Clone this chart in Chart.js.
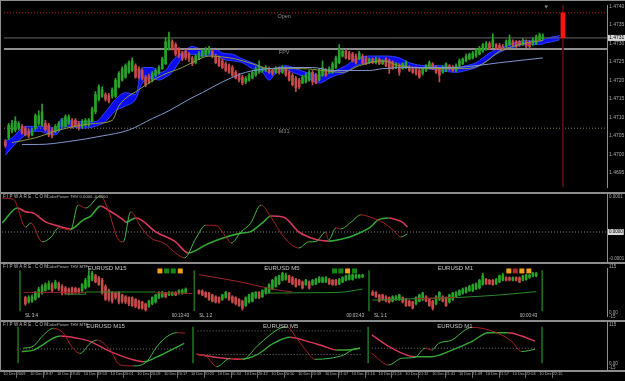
<!DOCTYPE html>
<html>
<head>
<meta charset="utf-8">
<title>EURUSD M1</title>
<script src="https://cdn.jsdelivr.net/npm/chart.js@4.4.1/dist/chart.umd.min.js"></script>
<style>
  html, body { margin: 0; padding: 0; background: #000; }
  #frame { position: relative; width: 625px; height: 381px; background: #000; overflow: hidden; }
  #frame canvas { position: absolute; left: 0; }
  .rule { position: absolute; left: 0; width: 625px; background: #8c8c8c; }
</style>
</head>
<body>
<div id="frame">
  <canvas id="pricePane" width="625" height="192" style="top:0;width:625px;height:192px"></canvas>
  <canvas id="thvPane" width="625" height="68" style="top:194px;width:625px;height:68px"></canvas>
  <canvas id="miniPane" width="625" height="56" style="top:264px;width:625px;height:56px"></canvas>
  <canvas id="oscPane" width="625" height="59" style="top:322px;width:625px;height:59px"></canvas>
  <div class="rule" style="top:0;height:1px"></div>
  <div class="rule" style="top:192px;height:2px"></div>
  <div class="rule" style="top:262px;height:2px"></div>
  <div class="rule" style="top:320px;height:2px"></div>
  <div class="rule" style="top:370px;height:2px"></div>
  <div class="rule" style="top:0;width:1px;height:372px"></div>
</div>
<script>
// ---------- price pane (EURUSD M1) ----------
const opens = [
  1.47035,1.47045,1.47063,1.47066,1.47071,1.47076,1.47071,1.47063,1.47053,1.47071,
  1.47084,1.47079,1.47084,1.47079,1.47066,1.47063,1.47066,1.47076,1.47076,1.47084,
  1.47089,1.47092,1.47084,1.47076,1.47079,1.47081,1.47089,1.47115,1.47149,1.47157,
  1.47162,1.47159,1.47157,1.47157,1.47183,1.47201,1.47209,1.47222,1.47227,1.47240,
  1.47232,1.47227,1.47209,1.47211,1.47201,1.47214,1.47219,1.47232,1.47245,1.47287,
  1.47305,1.47297,1.47284,1.47274,1.47279,1.47271,1.47261,1.47248,1.47258,1.47266,
  1.47269,1.47274,1.47279,1.47266,1.47261,1.47253,1.47245,1.47240,1.47235,1.47222,
  1.47214,1.47209,1.47196,1.47201,1.47206,1.47214,1.47222,1.47227,1.47227,1.47232,
  1.47227,1.47222,1.47232,1.47222,1.47232,1.47222,1.47214,1.47206,1.47201,1.47193,
  1.47196,1.47201,1.47222,1.47214,1.47201,1.47214,1.47227,1.47222,1.47222,1.47235,
  1.47248,1.47266,1.47279,1.47274,1.47271,1.47266,1.47258,1.47266,1.47261,1.47248,
  1.47258,1.47248,1.47258,1.47245,1.47258,1.47253,1.47248,1.47235,1.47240,1.47232,
  1.47235,1.47235,1.47232,1.47232,1.47227,1.47219,1.47227,1.47235,1.47245,1.47235,
  1.47232,1.47222,1.47227,1.47240,1.47235,1.47227,1.47240,1.47245,1.47253,1.47258,
  1.47261,1.47266,1.47271,1.47279,1.47284,1.47300,1.47292,1.47297,1.47295,1.47292,
  1.47292,1.47297,1.47305,1.47305,1.47305,1.47297,1.47305,1.47302,1.47297,1.47300,
  1.47310,1.47313
];
const highs = [
  1.47040,1.47084,1.47092,1.47102,1.47089,1.47081,1.47076,1.47068,1.47071,1.47110,
  1.47118,1.47136,1.47092,1.47084,1.47071,1.47081,1.47089,1.47097,1.47107,1.47107,
  1.47097,1.47097,1.47089,1.47094,1.47097,1.47097,1.47128,1.47170,1.47188,1.47183,
  1.47167,1.47165,1.47180,1.47206,1.47224,1.47237,1.47245,1.47253,1.47261,1.47245,
  1.47237,1.47232,1.47214,1.47217,1.47224,1.47232,1.47240,1.47263,1.47315,1.47331,
  1.47310,1.47302,1.47289,1.47279,1.47284,1.47276,1.47266,1.47271,1.47279,1.47284,
  1.47289,1.47292,1.47284,1.47271,1.47266,1.47258,1.47250,1.47245,1.47240,1.47227,
  1.47219,1.47214,1.47211,1.47219,1.47227,1.47237,1.47253,1.47237,1.47240,1.47237,
  1.47232,1.47237,1.47237,1.47240,1.47237,1.47227,1.47219,1.47211,1.47206,1.47214,
  1.47219,1.47227,1.47227,1.47219,1.47232,1.47253,1.47232,1.47237,1.47250,1.47266,
  1.47297,1.47284,1.47284,1.47279,1.47276,1.47271,1.47279,1.47271,1.47266,1.47261,
  1.47261,1.47263,1.47261,1.47256,1.47261,1.47258,1.47253,1.47248,1.47245,1.47248,
  1.47253,1.47240,1.47237,1.47237,1.47232,1.47235,1.47243,1.47253,1.47248,1.47240,
  1.47235,1.47240,1.47248,1.47243,1.47240,1.47245,1.47258,1.47261,1.47271,1.47274,
  1.47279,1.47287,1.47292,1.47300,1.47305,1.47305,1.47326,1.47300,1.47300,1.47297,
  1.47310,1.47323,1.47310,1.47308,1.47308,1.47313,1.47310,1.47308,1.47315,1.47323,
  1.47328,1.47326
];
const lows = [
  1.47019,1.47040,1.47058,1.47061,1.47066,1.47055,1.47050,1.47045,1.47050,1.47066,
  1.47079,1.47076,1.47063,1.47048,1.47045,1.47058,1.47063,1.47074,1.47074,1.47081,
  1.47071,1.47074,1.47066,1.47071,1.47076,1.47076,1.47087,1.47110,1.47144,1.47154,
  1.47144,1.47139,1.47152,1.47154,1.47180,1.47198,1.47206,1.47219,1.47224,1.47206,
  1.47204,1.47201,1.47183,1.47191,1.47196,1.47209,1.47217,1.47230,1.47243,1.47282,
  1.47282,1.47266,1.47261,1.47253,1.47256,1.47250,1.47240,1.47245,1.47256,1.47263,
  1.47266,1.47271,1.47261,1.47245,1.47237,1.47232,1.47224,1.47219,1.47211,1.47204,
  1.47196,1.47188,1.47191,1.47198,1.47204,1.47211,1.47219,1.47222,1.47224,1.47219,
  1.47214,1.47219,1.47217,1.47219,1.47211,1.47198,1.47185,1.47170,1.47178,1.47191,
  1.47193,1.47198,1.47188,1.47191,1.47198,1.47211,1.47211,1.47219,1.47219,1.47232,
  1.47245,1.47263,1.47258,1.47256,1.47250,1.47245,1.47256,1.47245,1.47243,1.47245,
  1.47245,1.47245,1.47243,1.47243,1.47237,1.47219,1.47230,1.47232,1.47214,1.47230,
  1.47232,1.47224,1.47219,1.47214,1.47206,1.47214,1.47224,1.47232,1.47230,1.47219,
  1.47196,1.47219,1.47224,1.47227,1.47224,1.47224,1.47237,1.47243,1.47250,1.47256,
  1.47258,1.47263,1.47269,1.47276,1.47282,1.47284,1.47289,1.47284,1.47282,1.47282,
  1.47289,1.47295,1.47292,1.47289,1.47292,1.47295,1.47289,1.47287,1.47295,1.47297,
  1.47308,1.47310
];
const closes = [
  1.47024,1.47079,1.47084,1.47089,1.47084,1.47058,1.47053,1.47050,1.47066,1.47105,
  1.47105,1.47115,1.47066,1.47053,1.47050,1.47076,1.47084,1.47092,1.47102,1.47102,
  1.47076,1.47076,1.47071,1.47089,1.47092,1.47094,1.47123,1.47162,1.47183,1.47175,
  1.47149,1.47144,1.47175,1.47201,1.47219,1.47232,1.47240,1.47248,1.47253,1.47209,
  1.47209,1.47206,1.47188,1.47196,1.47219,1.47227,1.47235,1.47258,1.47305,1.47310,
  1.47287,1.47271,1.47266,1.47258,1.47261,1.47258,1.47245,1.47266,1.47274,1.47279,
  1.47282,1.47284,1.47266,1.47248,1.47240,1.47235,1.47227,1.47222,1.47214,1.47206,
  1.47201,1.47193,1.47206,1.47214,1.47222,1.47232,1.47240,1.47232,1.47235,1.47222,
  1.47219,1.47232,1.47222,1.47235,1.47214,1.47201,1.47188,1.47180,1.47183,1.47209,
  1.47214,1.47222,1.47196,1.47193,1.47227,1.47235,1.47214,1.47232,1.47245,1.47261,
  1.47284,1.47279,1.47261,1.47258,1.47253,1.47248,1.47274,1.47248,1.47245,1.47258,
  1.47248,1.47258,1.47245,1.47253,1.47240,1.47232,1.47232,1.47245,1.47222,1.47245,
  1.47248,1.47227,1.47222,1.47219,1.47209,1.47232,1.47240,1.47248,1.47232,1.47222,
  1.47214,1.47235,1.47245,1.47232,1.47227,1.47240,1.47253,1.47258,1.47266,1.47271,
  1.47274,1.47284,1.47287,1.47297,1.47300,1.47287,1.47310,1.47287,1.47287,1.47284,
  1.47305,1.47310,1.47297,1.47292,1.47297,1.47308,1.47292,1.47292,1.47310,1.47318,
  1.47323,1.47318
];
const priceTicks = [1.4695, 1.4700, 1.4705, 1.4710, 1.4715, 1.4720, 1.4725, 1.4730, 1.4735, 1.4740];
const currentPrice = 1.47315;
const levelNames = ['Open', 'FPV', 'M31'];
const levelPrices = [1.47383, 1.47285, 1.47071];
const rangeBar = [1.47315, 1.47383];
const futureBarIdx = 167;
const shiftMarkIdx = 162;

// blue band
const cloudIdx = [0,2,5,7,10,12,15,17,19,23,27,30,33,36,39,41,44,46,48,50,53,56,59,63,65,68,71,74,77,79,
  81,84,87,90,94,97,99,102,105,109,114,118,121,126,130,135,138,141,143,145,147,150,152,154,156,160,162,164,166];
const cloudTop = [1.47037,1.47045,1.47071,1.47076,1.47076,1.47076,1.47071,1.47097,1.47092,1.47089,1.47089,1.47115,
  1.47149,1.47167,1.47162,1.47235,1.47235,1.47222,1.47227,1.47253,1.47274,1.47292,1.47284,1.47287,1.47274,1.47271,
  1.47258,1.47248,1.47235,1.47222,1.47232,1.47240,1.47232,1.47222,1.47214,1.47219,1.47227,1.47240,1.47258,1.47266,
  1.47266,1.47261,1.47248,1.47240,1.47240,1.47235,1.47240,1.47248,1.47261,1.47274,1.47284,1.47292,1.47300,1.47305,
  1.47308,1.47305,1.47313,1.47318,1.47321];
const cloudBottom = [1.46998,1.47019,1.47045,1.47058,1.47063,1.47058,1.47053,1.47071,1.47076,1.47071,1.47076,1.47089,
  1.47118,1.47131,1.47149,1.47193,1.47206,1.47201,1.47209,1.47222,1.47261,1.47271,1.47266,1.47271,1.47258,1.47253,
  1.47248,1.47232,1.47222,1.47201,1.47219,1.47227,1.47219,1.47209,1.47193,1.47206,1.47214,1.47222,1.47240,1.47248,
  1.47253,1.47245,1.47235,1.47232,1.47227,1.47222,1.47227,1.47235,1.47245,1.47258,1.47271,1.47284,1.47289,1.47295,
  1.47297,1.47297,1.47302,1.47305,1.47310];

// moving averages
const slowMaIdx = [5,10,19,29,37,44,49,55,59,65,72,79,86,92,98,109,113,121,133,138,148,156,161];
const slowMa = [1.47027,1.47027,1.47035,1.47050,1.47066,1.47097,1.47118,1.47149,1.47167,1.47196,1.47222,1.47232,
  1.47235,1.47235,1.47227,1.47227,1.47232,1.47235,1.47235,1.47237,1.47248,1.47256,1.47261];
const fastMaIdx = [2,9,16,27,32,34,40,47,53,57,61,69,74,79,89,95,101,106,113,118,131,138,143,148,152,158,161];
const fastMa = [1.47032,1.47045,1.47066,1.47084,1.47092,1.47131,1.47175,1.47214,1.47235,1.47253,1.47266,1.47258,
  1.47245,1.47232,1.47232,1.47227,1.47222,1.47240,1.47253,1.47240,1.47232,1.47232,1.47245,1.47279,1.47292,1.47305,1.47308];

// ---------- ColorPower THV pane ----------
const thvSlowIdx = [-0.3,4.2,6.7,8.9,12.7,15.6,20.1,23.9,26.1,29.0,31.3,35.8,36.6,39.6,45.6,51.4,55.2,60.4,64.9,70.9,
  73.8,77.6,79.9,83.7,88.2,91.1,94.0,97.1,102.3,106.1,109.6,111.9,115.0,117.3,119.1,120.6];
const thvSlow = [0.000024,0.000063,0.000053,0.000050,0.000026,0.000018,0.000008,0.000032,0.000042,0.000068,0.000058,
  0.000032,0.000026,0.000037,0.000000,-0.000026,-0.000055,-0.000034,-0.000018,-0.000003,0.000001,0.000026,0.000042,
  0.000039,0.000000,-0.000013,-0.000021,-0.000024,-0.000016,-0.000003,0.000013,0.000032,0.000037,0.000032,0.000026,0.000013];
const thvFastIdx = [-0.3,3.0,6.7,8.2,11.6,14.3,16.5,20.1,22.3,24.6,29.0,31.3,34.4,35.8,38.0,41.1,44.0,47.9,51.4,54.1,
  57.5,60.4,63.5,67.1,68.0,70.9,73.8,76.9,79.9,83.7,88.2,91.1,93.3,96.2,97.1,99.3,100.7,103.8,106.7,109.6,113.5,116.4,118.7,120.6];
const thvFast = [0.000089,0.000086,0.000013,0.000024,-0.000026,-0.000013,0.000011,0.000005,0.000071,0.000063,0.000095,
  0.000058,-0.000021,-0.000026,0.000053,0.000013,-0.000016,-0.000029,-0.000055,-0.000068,-0.000016,0.000018,0.000017,
  -0.000021,-0.000029,0.000000,0.000023,0.000071,0.000039,-0.000013,-0.000042,-0.000026,-0.000025,0.000000,-0.000021,
  0.000011,0.000008,0.000026,0.000045,0.000039,0.000024,0.000005,-0.000013,-0.000005];

// ---------- multi-timeframe mini charts, [open, high, low, close] ----------
const m15Start = 6;
const m15Bars = [
  [35,38,14,18],[23,40,20,35],[25,42,22,37],[30,52,28,47],[37,63,35,58],[47,70,44,65],[54,75,52,70],[58,80,56,73],[70,75,50,54],[61,82,58,77],
  [73,77,54,58],[65,70,42,47],[61,65,44,47],[58,61,42,47],[61,63,44,47],[60,63,46,49],[58,61,46,49],[54,73,51,70],[61,87,58,82],[65,108,63,94],
  [82,106,80,101],[94,98,75,77],[89,92,68,70],[82,87,44,47],[65,70,27,30],[54,58,25,30],[49,51,20,25],[47,49,30,35],[49,51,18,23],[42,44,20,25],
  [37,40,18,23],[35,37,13,18],[35,37,11,13],[30,32,8,11],[25,28,4,6],[23,25,3,6],[18,20,-2,2],[11,28,8,25],[18,37,15,35],[23,44,20,42],
  [35,51,32,49],[37,52,35,49],[47,49,35,37],[42,52,40,49],[42,51,40,49],[49,51,40,42],[47,56,44,54],[47,58,44,54],[49,61,47,58]
];
const m5Start = 58;
const m5Bars = [
  [54,56,44,46],[53,56,40,42],[49,51,35,37],[47,49,27,30],[42,44,23,25],[37,40,20,23],[35,37,20,23],[30,44,27,42],[35,52,33,49],[47,49,27,30],
  [37,40,20,23],[35,37,15,18],[30,32,11,13],[25,28,1,6],[13,37,11,35],[23,44,20,42],[25,49,23,47],[35,51,32,49],[49,51,32,35],[37,56,35,54],
  [47,63,44,61],[49,73,47,70],[58,84,56,82],[65,92,63,89],[72,96,70,94],[82,104,80,101],[84,101,82,96],[94,96,75,77],[89,92,70,72],[84,87,63,65],
  [82,84,68,70],[77,80,58,61],[70,84,68,82],[77,80,58,61],[70,84,68,82],[72,87,70,84],[77,92,75,89],[77,91,75,89],[77,92,75,89],[84,87,70,72],
  [82,84,68,70],[82,84,68,70],[72,87,70,84],[77,92,75,89],[82,96,80,94],[84,99,82,96],[84,99,82,96],[89,99,87,96],[89,98,87,96],[91,98,89,96]
];
const m1Start = 110;
const m1Bars = [
  [49,54,40,42],[49,51,35,37],[42,44,23,25],[42,44,27,30],[37,40,23,25],[35,37,20,23],[25,40,23,37],[30,40,27,37],[30,44,27,42],[35,37,20,23],
  [30,32,11,13],[25,28,11,13],[23,25,4,6],[18,37,15,35],[25,44,23,42],[30,49,27,47],[37,40,23,25],[30,32,11,13],[25,28,1,6],[18,40,15,37],
  [30,51,27,49],[37,40,23,25],[35,37,11,13],[23,44,20,42],[30,49,27,47],[37,51,35,49],[42,56,40,54],[47,61,44,58],[49,63,47,61],[54,68,51,65],
  [54,72,51,70],[58,75,56,72],[61,84,58,82],[70,101,68,94],[84,87,70,72],[82,84,70,72],[82,84,68,70],[72,87,70,84],[77,96,75,94],[82,101,80,96],
  [89,91,80,82],[89,91,80,82],[82,91,80,89],[89,91,80,82],[89,91,75,77],[82,96,80,94],[84,98,82,96],[89,98,87,96],[94,103,91,101],[94,103,91,101]
];
const m15StopRed = [[5.5,49],[24,49],[null,null],[45,48],[56,46]];
const m15StopGreen = [[18,44],[24,44],[24,50],[45,50]];
const m5MaRed = [[58,97],[70,78],[80,58],[86,50]];
const m5MaGreen = [[78,47],[90,48],[100,49],[107,58]];
const m1MaGreen = [[110,28],[123,32],[135,35],[148,42],[159,51]];
const m1MaRed = [[123,32],[135,35]];
const signalIdx = [46.3,48.3,50.3,52.4, 98.6,100.5,102.5,104.6, 150.8,152.7,154.7,156.8];
const signalState = ['warn','up','up','warn', 'up','up','warn','up', 'warn','down','warn','warn'];
const signalLevel = 107;
const miniSplitIdx = [4.4, 56.6, 108.9, 160.8];
const miniTitles = ['EURUSD M15', 'EURUSD M5', 'EURUSD M1'];
const miniTitleIdx = [30.5, 82.8, 134.8];
const miniStops = ['SL 3:4', 'SL 1:2', 'SL 1:1'];
const miniTimers = ['00:13:43', '00:03:43', '00:00:43'];

// mini oscillators
const m15SlowIdx = [5.5,9,17,22,26,31,39,42,46,50,54];
const m15Slow = [35,39,77,71,62,39,12,7.5,21,39,57];
const m15FastIdx = [6,9,12,15,18,20.4,22.9,25.9,27.9,31.9,34.8,38.8,42.8,45.8,48.8,51.8,54.2];
const m15Fast = [44,50,80,98,84,48,30,57,66,39,-1.5,-4,7.5,48,75,86,85];
const m5SlowIdx = [57.7,64.7,70.7,75.6,80.6,85.6,89.5,95.5,99.5,102.5,106.5];
const m5Slow = [27.5,18,14,26,57,73.5,66,50,39,39,44];
const m5FastIdx = [57.7,60.7,63.7,67.7,71.6,75.6,79.6,82.6,84.6,87.6,90.6,93,97.5,101.5,104.5,106.5];
const m5Fast = [27.5,21,-6,16.7,14,48,80,98,102,71,35,14,16.7,25.6,41,44];
const m1SlowIdx = [110,116,122.9,127.9,133.9,139.8,144.8,150.7,154.7,158.7];
const m1Slow = [80,44,21,21,39,62,86,86,77,63.5];
const m1FastIdx = [110,115,118.9,122.9,125.9,127.9,129.9,133.9,137.8,139.8,142.8,147.8,151.8,154.7,158.7];
const m1Fast = [30,-1.5,16.7,19.4,44,39,57,66,93,100.6,98,84,62,35,41];
const oscLevels = [[5,54,42],[58,107,91],[58,107,27],[110,159,44]];

// time axis
const timeLabels = ['10 Dec 2009','10 Dec 19:37','10 Dec 19:45','10 Dec 19:53','10 Dec 20:01','10 Dec 20:09',
  '10 Dec 20:17','10 Dec 20:25','10 Dec 20:34','10 Dec 20:42','10 Dec 20:50','10 Dec 20:59','10 Dec 21:07',
  '10 Dec 21:16','10 Dec 21:24','10 Dec 21:32','10 Dec 21:41','10 Dec 21:49','10 Dec 21:57','10 Dec 22:04','10 Dec 22:15'];
const timeTickIdx = [0,8,16,24,32,40,48,56,64,72,80,88,96,104,112,120,128,136,144,152,160];

// ---------- drawing ----------
const FONT = '"Liberation Sans", Arial, sans-serif';
const UP = '#27a327', DOWN = '#c74b4b';
const X_MIN = -0.4, X_MAX = 180.2;
const PRICE_MIN = 1.46912, PRICE_MAX = 1.47404;
const signalColors = {up: '#0f8a0f', warn: '#f0a010', down: '#a82c2c'};

const xy = (idx, vals) => idx.map((x, k) => ({x, y: vals[k]}));
const pairs = list => list.map(p => ({x: p[0], y: p[1]}));
const flat = (a, b, v) => [{x: a, y: v}, {x: b, y: v}];
const slope = (up, down) => ({borderColor: c => c.p1.parsed.y >= c.p0.parsed.y ? up : down});

function lineSet(data, color, width, extra) {
  return Object.assign({type: 'line', data, borderColor: color, borderWidth: width,
    pointRadius: 0, cubicInterpolationMode: 'monotone', fill: false}, extra || {});
}
function candleSets(list, bodyW) {
  const colors = list.map(b => b.c >= b.o ? UP : DOWN);
  return [
    {type: 'bar', data: list.map(b => ({x: b.x, y: [b.o, b.c]})), backgroundColor: colors,
      barThickness: bodyW, grouped: false, minBarLength: 1},
    {type: 'bar', data: list.map(b => ({x: b.x, y: [b.l, b.h]})), backgroundColor: colors,
      barThickness: 1, grouped: false}
  ];
}
function miniList(start, bars) {
  return bars.map((b, k) => ({x: start + k, o: b[0], h: b[1], l: b[2], c: b[3]}));
}

function textLayer(items) {
  return {
    id: 'textLayer',
    afterDraw(chart) {
      const {ctx, scales} = chart;
      ctx.save();
      for (const it of items) {
        const px = it.px !== undefined ? it.px : scales.x.getPixelForValue(it.x);
        const py = (it.py !== undefined ? it.py : scales.y.getPixelForValue(it.y)) + (it.dy || 0);
        ctx.font = (it.size || 5) + 'px ' + FONT;
        ctx.letterSpacing = (it.spacing || 0) + 'px';
        ctx.textAlign = it.align || 'left';
        ctx.textBaseline = 'middle';
        if (it.box) {
          const w = ctx.measureText(it.t).width;
          ctx.fillStyle = it.box;
          ctx.fillRect(px - 1, py - 3, w + 2, 6);
        }
        ctx.fillStyle = it.color || '#a8a8a8';
        ctx.fillText(it.t, px, py);
      }
      ctx.restore();
    }
  };
}

function baseOptions(pad, yScale, xScale) {
  return {
    responsive: false, maintainAspectRatio: false, animation: false, events: [],
    layout: {padding: Object.assign({left: 2, right: 0, top: 0, bottom: 0}, pad)},
    plugins: {legend: {display: false}, tooltip: {enabled: false}},
    scales: {
      x: xScale || {type: 'linear', min: X_MIN, max: X_MAX, offset: false, display: false},
      y: Object.assign({position: 'right', afterFit: s => { s.width = 18; },
        grid: {display: false, drawTicks: false}, border: {display: true, color: '#8c8c8c', width: 1},
        ticks: {display: false}}, yScale)
    }
  };
}

// price pane
const mainCandles = closes.map((c, i) => ({x: i, o: opens[i], h: highs[i], l: lows[i], c}));
const levelStyles = [
  {color: '#b42020', width: 1, dash: [1, 2]},
  {color: '#8e8e8e', width: 2, dash: []},
  {color: '#8a7a5a', width: 1, dash: [1, 2]}
];
new Chart(document.getElementById('pricePane'), {
  type: 'bar',
  data: {datasets: [
    lineSet([{x: shiftMarkIdx, y: 1.47400}], '#909090', 0, {showLine: false, pointRadius: 2,
      pointStyle: 'triangle', rotation: 180, pointBackgroundColor: '#909090'}),
    lineSet(xy(slowMaIdx, slowMa), '#8096cc', 1),
    lineSet(xy(fastMaIdx, fastMa), '#8c9a3c', 1),
    ...candleSets(mainCandles, 2),
    {type: 'bar', data: [{x: futureBarIdx, y: rangeBar}], backgroundColor: '#ff1212', barThickness: 4, grouped: false},
    {type: 'bar', data: [{x: futureBarIdx, y: [PRICE_MIN, PRICE_MAX]}], backgroundColor: '#5c0e0e', barThickness: 1, grouped: false},
    lineSet(flat(X_MIN, X_MAX, currentPrice), '#686868', 1),
    ...levelPrices.map((p, k) => lineSet(flat(X_MIN, X_MAX, p), levelStyles[k].color, levelStyles[k].width,
      {borderDash: levelStyles[k].dash})),
    lineSet(xy(cloudIdx, cloudBottom), '#2b45ff', 1),
    lineSet(xy(cloudIdx, cloudTop), '#2b45ff', 1, {fill: '-1', backgroundColor: '#0c0cee'})
  ]},
  options: baseOptions({top: 2, bottom: 1}, {
    min: PRICE_MIN, max: PRICE_MAX,
    afterBuildTicks: s => { s.ticks = priceTicks.map(v => ({value: v})); },
    ticks: {display: true, color: '#a8a8a8', padding: 2, font: {size: 5, family: FONT},
      callback: v => v.toFixed(4)}
  }),
  plugins: [textLayer([
    ...levelNames.map((t, k) => ({t, x: 83.5, y: levelPrices[k], dy: 3.5, align: 'center', color: '#8c8c8c', size: 5.5})),
    {t: currentPrice.toFixed(4), px: 609, y: currentPrice, box: '#d8d8d8', color: '#000', size: 5}
  ])]
});

// ColorPower THV pane
new Chart(document.getElementById('thvPane'), {
  type: 'line',
  data: {datasets: [
    lineSet(xy(thvFastIdx, thvFast), '#a82222', 1, {segment: slope('#44b844', '#a82222')}),
    lineSet(xy(thvSlowIdx, thvSlow), '#d8385a', 1.6, {segment: slope('#34a834', '#d8385a')}),
    lineSet(flat(X_MIN, X_MAX, 0), '#7a7a7a', 1, {borderDash: [1, 2]})
  ]},
  options: baseOptions({}, {min: -0.0000789, max: 0.0001}),
  plugins: [textLayer([
    {t: 'FIPWARE.COM', px: 3, py: 2.5, size: 4.5, spacing: 1.3, color: '#b8b8b8'},
    {t: 'ColorPower THV 0.0000 -0.0000', px: 47, py: 2.5, size: 4.2, color: '#b8b8b8'},
    {t: '0.0001', px: 609, py: 2.5, size: 4.5},
    {t: '0.0000', px: 609, y: 0, box: '#d8d8d8', color: '#000', size: 4.5},
    {t: '-0.0001', px: 609, py: 65, size: 4.5}
  ])]
});

// mini charts pane
const miniCandles = [...miniList(m15Start, m15Bars), ...miniList(m5Start, m5Bars), ...miniList(m1Start, m1Bars)];
new Chart(document.getElementById('miniPane'), {
  type: 'bar',
  data: {datasets: [
    lineSet(xy(signalIdx, signalIdx.map(() => signalLevel)), '#000', 0, {showLine: false, pointStyle: 'rect',
      pointRadius: 3.5, pointBorderWidth: 0, pointBackgroundColor: signalState.map(s => signalColors[s])}),
    lineSet(pairs(m15StopRed), '#9a2626', 1, {cubicInterpolationMode: 'default', tension: 0}),
    lineSet(pairs(m15StopGreen), '#2a8a2a', 1, {cubicInterpolationMode: 'default', tension: 0}),
    lineSet(pairs(m5MaRed), '#9a2a2a', 1),
    lineSet(pairs(m5MaGreen), '#2a8a2a', 1),
    lineSet(pairs(m1MaRed), '#9a2a2a', 1),
    lineSet(pairs(m1MaGreen), '#2a8a2a', 1),
    ...candleSets(miniCandles, 2),
    {type: 'bar', data: miniSplitIdx.map(x => ({x, y: [-1, 108]})), backgroundColor: '#1d6b1d', barThickness: 1, grouped: false}
  ]},
  options: baseOptions({bottom: 1}, {min: -15, max: 115}),
  plugins: [textLayer([
    {t: 'FIPWARE.COM', px: 3, py: 2.5, size: 4.5, spacing: 1.3, color: '#b8b8b8'},
    {t: 'ColorPower THV MTF', px: 47, py: 2.5, size: 4.2, color: '#b8b8b8'},
    ...miniTitles.map((t, k) => ({t, x: miniTitleIdx[k], py: 4, align: 'center', size: 6, color: '#c8c8c8'})),
    ...miniStops.map((t, k) => ({t, x: miniSplitIdx[k] + 1.5, py: 52, size: 4.5, color: '#c0c0c0'})),
    ...miniTimers.map((t, k) => ({t, x: miniSplitIdx[k + 1] - 1.5, py: 52, align: 'right', size: 4.5, color: '#c0c0c0'})),
    {t: '115', px: 609, py: 2.5, size: 4.5},
    {t: '0.00', px: 609, py: 49, size: 4.5},
    {t: '-15', px: 609, py: 53, size: 4.5}
  ])]
});

// mini oscillators pane + time axis
const levelPoints = [];
oscLevels.forEach(l => { levelPoints.push({x: l[0], y: l[2]}, {x: l[1], y: l[2]}, {x: l[1], y: null}); });
new Chart(document.getElementById('oscPane'), {
  type: 'bar',
  data: {datasets: [
    lineSet(xy(m15FastIdx, m15Fast), '#a82222', 1, {segment: slope('#44b844', '#a82222')}),
    lineSet(xy(m5FastIdx, m5Fast), '#a82222', 1, {segment: slope('#44b844', '#a82222')}),
    lineSet(xy(m1FastIdx, m1Fast), '#a82222', 1, {segment: slope('#44b844', '#a82222')}),
    lineSet(xy(m15SlowIdx, m15Slow), '#d8385a', 1.4, {segment: slope('#34a834', '#d8385a')}),
    lineSet(xy(m5SlowIdx, m5Slow), '#d8385a', 1.4, {segment: slope('#34a834', '#d8385a')}),
    lineSet(xy(m1SlowIdx, m1Slow), '#d8385a', 1.4, {segment: slope('#34a834', '#d8385a')}),
    lineSet(levelPoints, '#707070', 1, {borderDash: [1, 2], cubicInterpolationMode: 'default', tension: 0}),
    {type: 'bar', data: miniSplitIdx.map(x => ({x, y: [4, 101]})), backgroundColor: '#1d6b1d', barThickness: 1, grouped: false}
  ]},
  options: baseOptions({}, {min: -15, max: 115}, {
    type: 'linear', min: X_MIN, max: X_MAX, offset: false, position: 'bottom',
    afterBuildTicks: s => { s.ticks = timeTickIdx.map(v => ({value: v})); },
    afterFit: s => { s.height = 11; },
    grid: {display: true, drawOnChartArea: false, drawTicks: true, tickLength: 8, color: '#6a6a6a'},
    border: {display: false},
    ticks: {color: '#b0b0b0', padding: -6, align: 'start', autoSkip: false, maxRotation: 0, minRotation: 0,
      font: {size: 3.9, family: FONT}, callback: (v, k) => timeLabels[k]}
  }),
  plugins: [textLayer([
    {t: 'FIPWARE.COM', px: 3, py: 3, size: 4.5, spacing: 1.3, color: '#b8b8b8'},
    {t: 'ColorPower THV MTF', px: 47, py: 3, size: 4.2, color: '#b8b8b8'},
    ...miniTitles.map((t, k) => ({t, x: miniTitleIdx[k], py: 4, align: 'center', size: 6, color: '#c8c8c8'})),
    {t: '115', px: 609, py: 3, size: 4.5},
    {t: '0.00', px: 609, py: 42, size: 4.5},
    {t: '-15', px: 609, py: 46, size: 4.5}
  ])]
});
</script>
</body>
</html>
